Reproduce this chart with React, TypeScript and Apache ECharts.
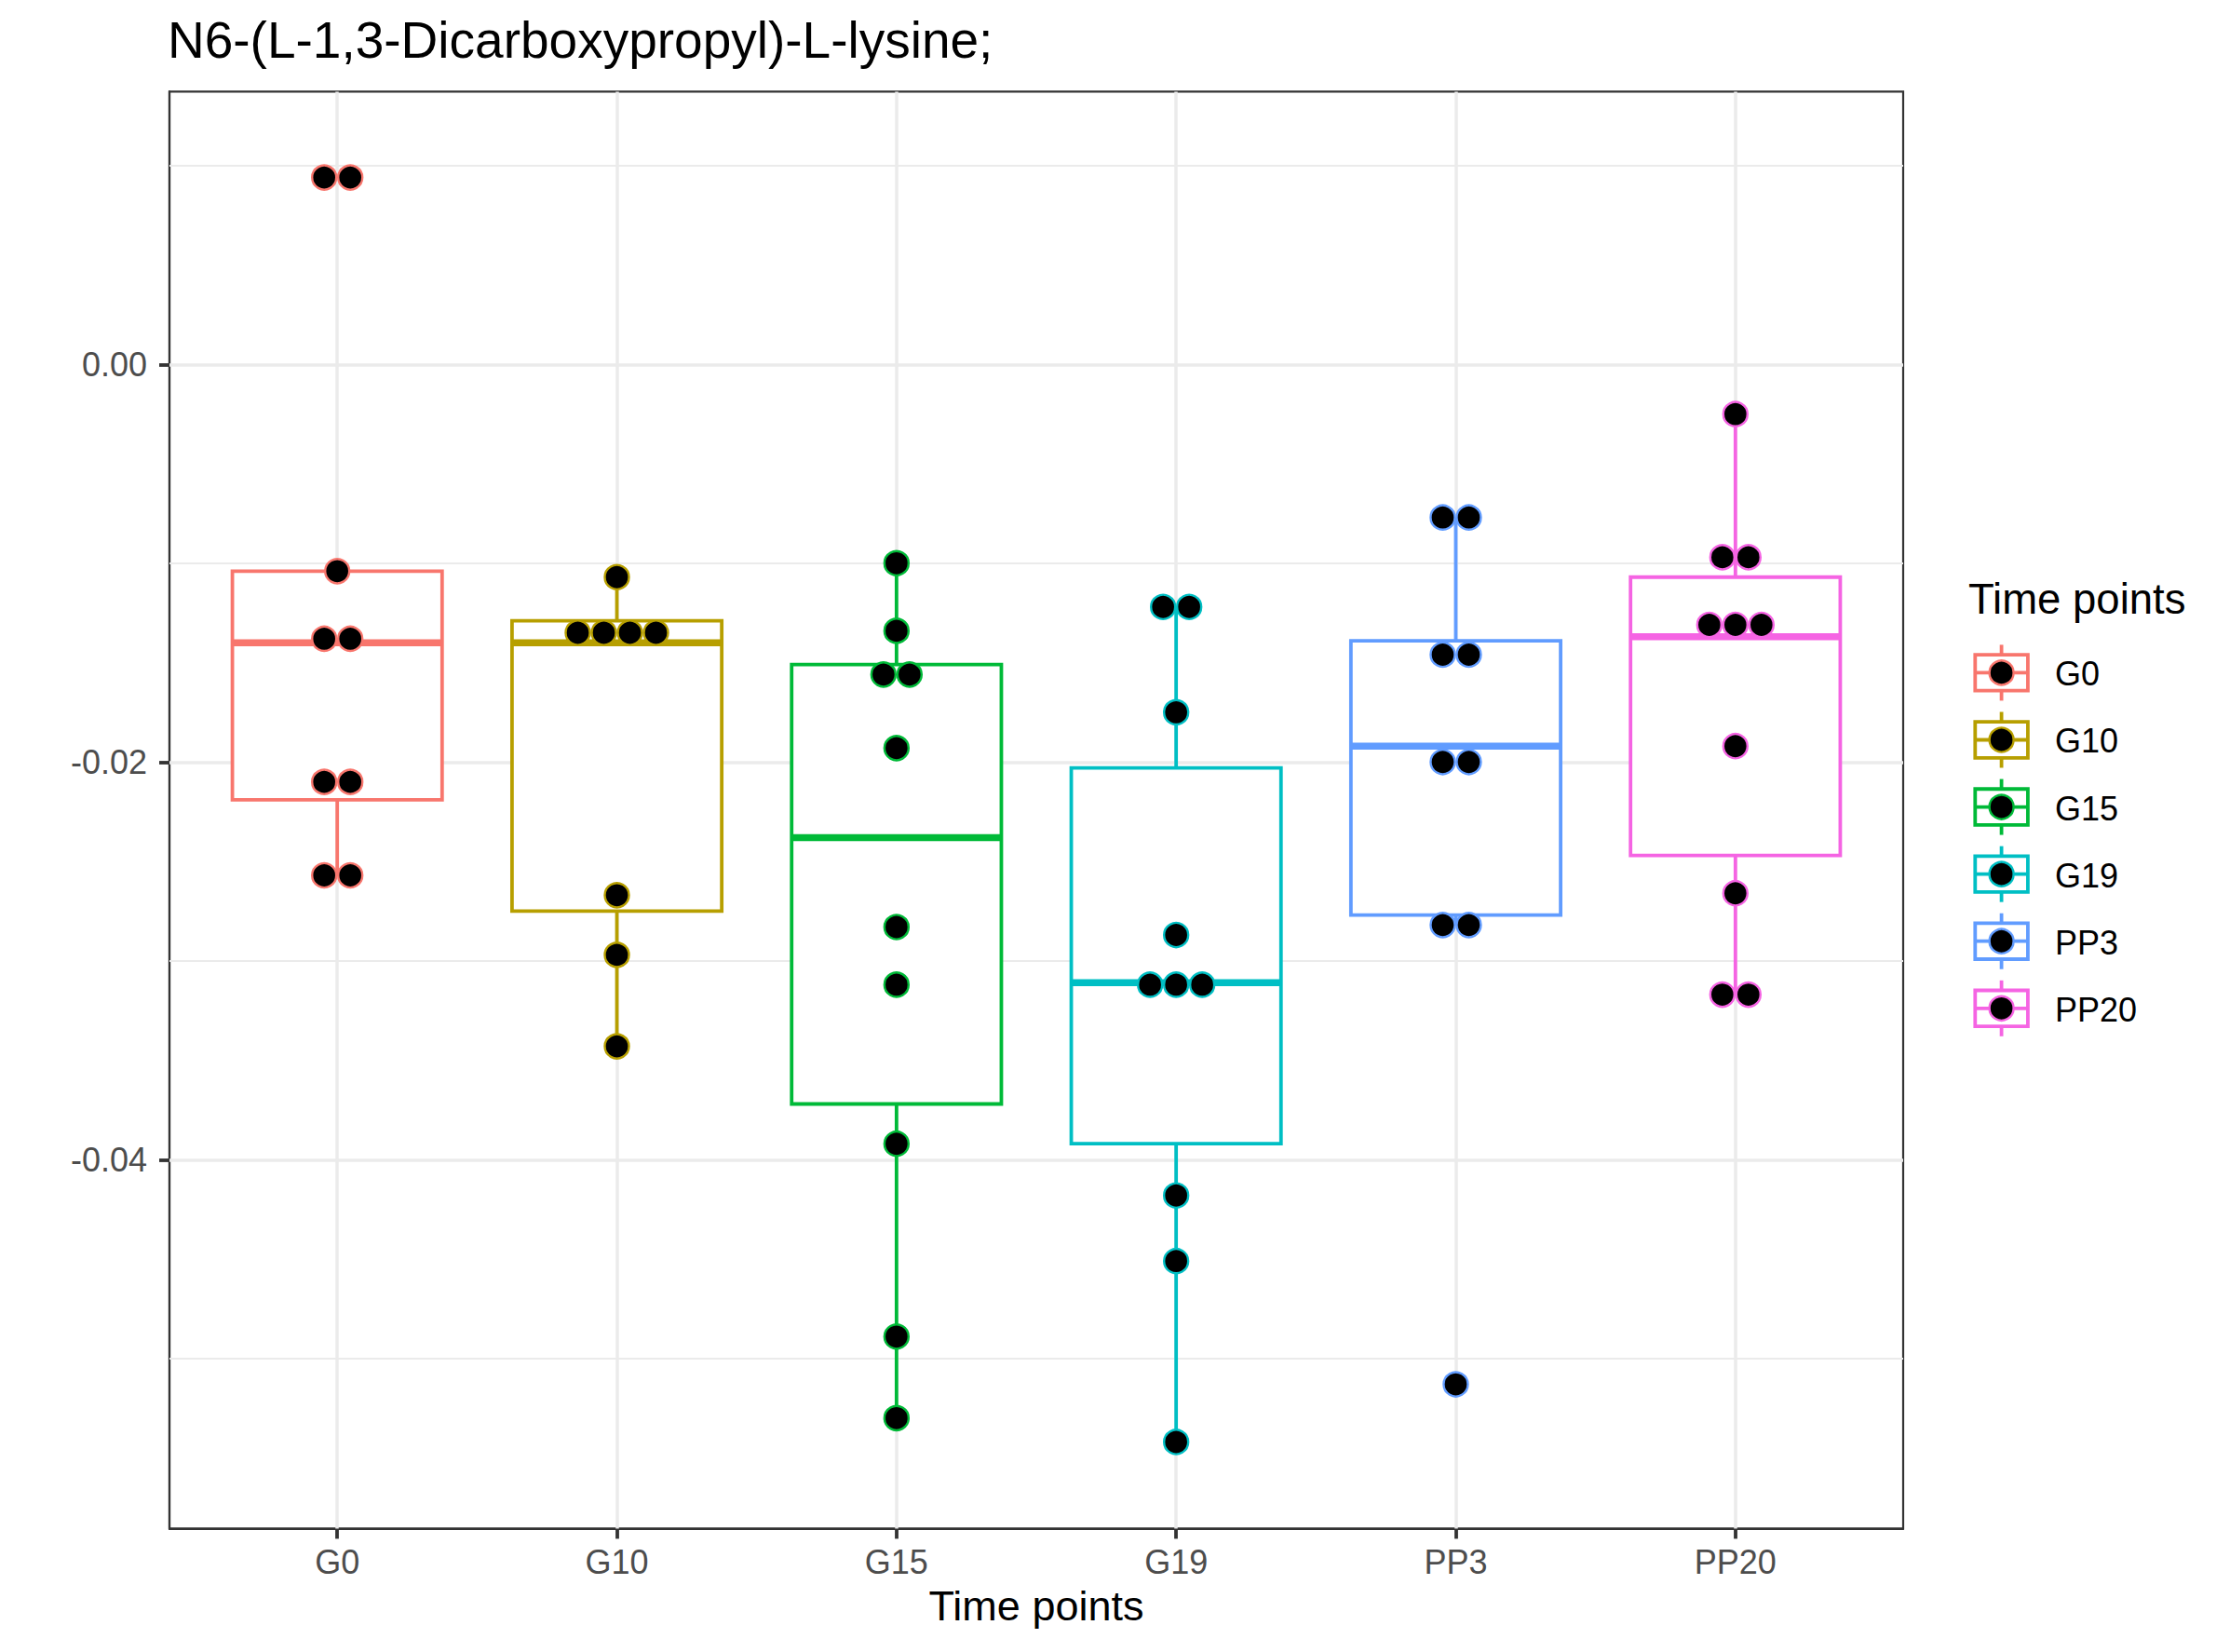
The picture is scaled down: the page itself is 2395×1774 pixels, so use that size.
import React, { useEffect, useRef } from "react";
import * as echarts from "echarts";

// ---------- data ----------
const categories = ["G0", "G10", "G15", "G19", "PP3", "PP20"];
const colors = ["#F8766D", "#B79F00", "#00BA38", "#00BFC4", "#619CFF", "#F564E3"];

// box statistics: [lower whisker, Q1, median, Q3, upper whisker]
const boxG0 = [-0.0257, -0.0219, -0.0140, -0.0104, -0.0104];
const boxG10 = [-0.0343, -0.0275, -0.0140, -0.0129, -0.0107];
const boxG15 = [-0.0530, -0.0372, -0.0238, -0.0151, -0.0100];
const boxG19 = [-0.0542, -0.0392, -0.0311, -0.0203, -0.0122];
const boxPP3 = [-0.0282, -0.0277, -0.0192, -0.0139, -0.0077];
const boxPP20 = [-0.0317, -0.0247, -0.0137, -0.0107, -0.0025];

// dot-plot values (binned dots, duplicates are stacked side by side)
const dotsG0 = [0.0094, 0.0094, -0.0104, -0.0138, -0.0138, -0.0210, -0.0210, -0.0257, -0.0257];
const dotsG10 = [-0.0107, -0.0135, -0.0135, -0.0135, -0.0135, -0.0267, -0.0297, -0.0343];
const dotsG15 = [-0.0100, -0.0134, -0.0156, -0.0156, -0.0193, -0.0283, -0.0312, -0.0392, -0.0489, -0.0530];
const dotsG19 = [-0.0122, -0.0122, -0.0175, -0.0287, -0.0312, -0.0312, -0.0312, -0.0418, -0.0451, -0.0542];
const dotsPP3 = [-0.0077, -0.0077, -0.0146, -0.0146, -0.0200, -0.0200, -0.0282, -0.0282, -0.0513];
const dotsPP20 = [-0.0025, -0.0097, -0.0097, -0.0131, -0.0131, -0.0131, -0.0192, -0.0266, -0.0317, -0.0317];

const yTicks = [-0.04, -0.02, 0];
const yMinorBreaks = [-0.05, -0.03, -0.01, 0.01];
const yMin = -0.058553;
const yMax = 0.013719;

const titleText = "N6-(L-1,3-Dicarboxypropyl)-L-lysine;";
const xTitle = "Time points";
const legendTitle = "Time points";

// ---------- style constants ----------
const FONT = "'Liberation Sans', Arial, Helvetica, sans-serif";
const BOX_LW = 3.8;
const MED_LW = 7.6;
const DOT_SIZE = 26;
const DOT_BORDER = 2.4;
const DOT_SPACING = 28;
const AXIS_COLOR = "#333333";

const boxes = [boxG0, boxG10, boxG15, boxG19, boxPP3, boxPP20];
const dots = [dotsG0, dotsG10, dotsG15, dotsG19, dotsPP3, dotsPP20];
const catIdx = categories.map((_, i) => i);

function stackDots(values: number[], idx: number) {
  const counts = new Map<number, number>();
  values.forEach((v) => counts.set(v, (counts.get(v) || 0) + 1));
  const seen = new Map<number, number>();
  return values.map((v) => {
    const n = counts.get(v) as number;
    const k = seen.get(v) || 0;
    seen.set(v, k + 1);
    const dx = (k - (n - 1) / 2) * DOT_SPACING;
    return { value: [idx, v], symbolOffset: [dx, 0] };
  });
}

export default function App() {
  const ref = useRef<HTMLDivElement>(null);

  useEffect(() => {
    if (!ref.current) return;
    const chart = echarts.init(ref.current, null, { renderer: "svg" });

    const gridLines: any[] = [];
    yTicks.forEach((v) =>
      gridLines.push({ yAxis: v, lineStyle: { color: "#EBEBEB", width: 3.5, type: "solid" } })
    );
    yMinorBreaks.forEach((v) =>
      gridLines.push({ yAxis: v, lineStyle: { color: "#EBEBEB", width: 2, type: "solid" } })
    );
    catIdx.forEach((v) =>
      gridLines.push({ xAxis: v, lineStyle: { color: "#EBEBEB", width: 3.5, type: "solid" } })
    );

    const boxSeries: any = {
      type: "custom",
      name: "box",
      coordinateSystem: "cartesian2d",
      z: 3,
      encode: { x: 0, y: [1, 2, 3, 4, 5] },
      data: boxes.map((b, i) => [i, ...b]),
      renderItem: (params: any, api: any) => {
        const x = api.value(0);
        const lo = api.coord([x, api.value(1)]);
        const q1 = api.coord([x, api.value(2)]);
        const md = api.coord([x, api.value(3)]);
        const q3 = api.coord([x, api.value(4)]);
        const hi = api.coord([x, api.value(5)]);
        const halfW = api.size([0.75, 0])[0] / 2;
        const color = colors[params.dataIndex];
        return {
          type: "group",
          children: [
            {
              type: "line",
              shape: { x1: lo[0], y1: lo[1], x2: q1[0], y2: q1[1] },
              style: { stroke: color, lineWidth: BOX_LW },
            },
            {
              type: "line",
              shape: { x1: q3[0], y1: q3[1], x2: hi[0], y2: hi[1] },
              style: { stroke: color, lineWidth: BOX_LW },
            },
            {
              type: "rect",
              shape: { x: q3[0] - halfW, y: q3[1], width: 2 * halfW, height: q1[1] - q3[1] },
              style: { fill: "#FFFFFF", stroke: color, lineWidth: BOX_LW, lineJoin: "miter" },
            },
            {
              type: "line",
              shape: { x1: md[0] - halfW, y1: md[1], x2: md[0] + halfW, y2: md[1] },
              style: { stroke: color, lineWidth: MED_LW },
            },
          ],
        };
      },
      markLine: {
        silent: true,
        z: 1,
        symbol: ["none", "none"],
        label: { show: false },
        data: gridLines,
      },
    };

    const dotSeries = categories.map((c, i) => ({
      type: "scatter",
      name: c,
      z: 5,
      symbol: "circle",
      symbolSize: DOT_SIZE,
      itemStyle: { color: "#000000", borderColor: colors[i], borderWidth: DOT_BORDER, opacity: 1 },
      data: stackDots(dots[i], i),
    }));

    // legend drawn as graphic elements
    const legendX = 2149.6;
    const legendY0 = 722.4;
    const legendStep = 72.08;
    const legendChildren: any[] = [
      {
        type: "text",
        x: 2114,
        y: 643.5,
        style: {
          text: legendTitle,
          font: `45.5px ${FONT}`,
          fill: "#000000",
          align: "left",
          verticalAlign: "middle",
        },
      },
    ];
    categories.forEach((c, i) => {
      const cy = legendY0 + i * legendStep;
      legendChildren.push(
        {
          type: "line",
          shape: { x1: legendX, y1: cy - 30, x2: legendX, y2: cy + 30 },
          style: { stroke: colors[i], lineWidth: BOX_LW },
        },
        {
          type: "rect",
          shape: { x: legendX - 28.3, y: cy - 19.3, width: 56.6, height: 38.6 },
          style: { fill: "#FFFFFF", stroke: colors[i], lineWidth: BOX_LW },
        },
        {
          type: "line",
          shape: { x1: legendX - 28.3, y1: cy, x2: legendX + 28.3, y2: cy },
          style: { stroke: colors[i], lineWidth: BOX_LW },
        },
        {
          type: "circle",
          shape: { cx: legendX, cy: cy, r: DOT_SIZE / 2 },
          style: { fill: "#000000", stroke: colors[i], lineWidth: DOT_BORDER },
        },
        {
          type: "text",
          x: 2207,
          y: cy + 1.5,
          style: {
            text: c,
            font: `36px ${FONT}`,
            fill: "#000000",
            align: "left",
            verticalAlign: "middle",
          },
        }
      );
    });

    chart.setOption({
      animation: false,
      backgroundColor: "#FFFFFF",
      textStyle: { fontFamily: FONT },
      title: {
        text: titleText,
        left: 180,
        top: 15.5,
        padding: 0,
        textStyle: { fontSize: 55, fontWeight: "normal", color: "#000000", fontFamily: FONT },
      },
      grid: {
        left: 182,
        top: 98.4,
        width: 1862,
        height: 1543,
        show: true,
        borderColor: AXIS_COLOR,
        borderWidth: 2.2,
        backgroundColor: "#FFFFFF",
        containLabel: false,
      },
      xAxis: {
        type: "value",
        min: -0.6,
        max: 5.6,
        name: xTitle,
        nameLocation: "middle",
        nameGap: 61,
        nameTextStyle: { fontSize: 45, color: "#000000", fontFamily: FONT },
        axisLine: { show: true, onZero: false, lineStyle: { color: AXIS_COLOR, width: 2.2 } },
        axisTick: {
          show: true,
          inside: false,
          length: 11,
          customValues: catIdx,
          lineStyle: { color: AXIS_COLOR, width: 3.8 },
        },
        axisLabel: {
          show: true,
          customValues: catIdx,
          margin: 18,
          fontSize: 36,
          color: "#4D4D4D",
          fontFamily: FONT,
          formatter: (v: number) => categories[Math.round(v)] ?? "",
        },
        splitLine: { show: false },
      },
      yAxis: {
        type: "value",
        min: yMin,
        max: yMax,
        axisLine: { show: true, onZero: false, lineStyle: { color: AXIS_COLOR, width: 2.2 } },
        axisTick: {
          show: true,
          inside: false,
          length: 11,
          customValues: yTicks,
          lineStyle: { color: AXIS_COLOR, width: 3.8 },
        },
        axisLabel: {
          show: true,
          customValues: yTicks,
          margin: 24,
          fontSize: 36,
          color: "#4D4D4D",
          fontFamily: FONT,
          formatter: (v: number) => v.toFixed(2),
        },
        splitLine: { show: false },
      },
      graphic: [{ type: "group", children: legendChildren }],
      series: [boxSeries, ...dotSeries],
    });

    return () => chart.dispose();
  }, []);

  return (
    <div
      ref={ref}
      style={{ position: "absolute", left: 0, top: 0, width: 2395, height: 1774, background: "#fff" }}
    />
  );
}
